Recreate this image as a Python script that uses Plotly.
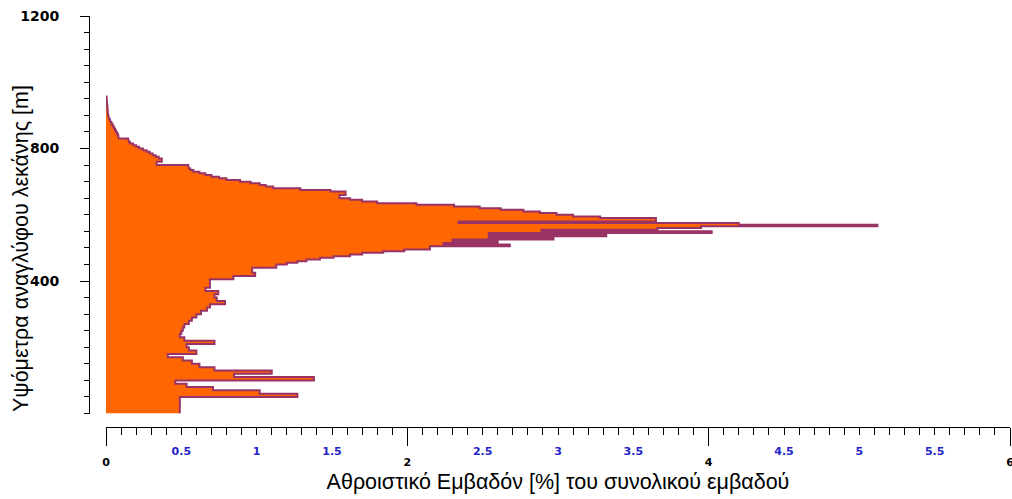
import plotly.graph_objects as go

# Elevation bands (lower edge, m) and share of basin area in each band (%)
band_floor_m = [
    0, 10, 20, 30, 40, 50, 60, 70, 80, 90,
    100, 110, 120, 130, 140, 150, 160, 170, 180, 190,
    200, 210, 220, 230, 240, 250, 260, 270, 280, 290,
    300, 310, 320, 330, 340, 350, 360, 370, 380, 390,
    400, 405, 410, 415, 420, 425, 430, 435, 440, 445,
    450, 455, 460, 465, 470, 475, 480, 485, 490, 495,
    500, 505, 510, 515, 520, 525, 530, 535, 540, 545,
    550, 555, 560, 565, 570, 575, 580, 585, 590, 595,
    600, 605, 610, 615, 620, 625, 630, 635, 640, 645,
    650, 655, 660, 665, 670, 675, 680, 685, 690, 695,
    700, 705, 710, 715, 720, 725, 730, 735, 740, 745,
    750, 755, 760, 765, 770, 775, 780, 785, 790, 795,
    800, 805, 810, 815, 820, 825, 830, 835, 840, 845,
    850, 855, 860, 865, 870, 875, 880, 885, 890, 895,
    900, 905, 910, 915, 920, 925, 930, 935, 940, 945,
    950, 955,
]
area_pct = [
    0.49, 0.49, 0.49, 0.49, 0.49, 1.27, 1.02, 0.71, 0.535, 0.46,
    1.38, 0.85, 1.10, 0.72, 0.62, 0.57, 0.51, 0.41, 0.60, 0.55,
    0.535, 0.72, 0.52, 0.49, 0.50, 0.51, 0.52, 0.55, 0.57, 0.60,
    0.63, 0.67, 0.69, 0.79, 0.735, 0.72, 0.745, 0.66, 0.69, 0.69,
    0.69, 0.845, 0.845, 0.99, 0.99, 0.97, 0.97, 0.97, 1.13, 1.13,
    1.20, 1.27, 1.33, 1.42, 1.51, 1.62, 1.70, 1.84, 1.98, 2.15,
    2.15, 2.68, 2.24, 2.60, 2.30, 2.97, 2.54, 3.32, 2.54, 4.02,
    2.89, 3.66, 3.95, 5.12, 4.20, 2.34, 3.65, 3.65, 3.28, 3.10,
    2.99, 2.88, 2.77, 2.62, 2.48, 2.31, 2.06, 1.80, 1.70, 1.62,
    1.55, 1.55, 1.59, 1.59, 1.49, 1.29, 1.11, 1.06, 1.02, 0.96,
    0.89, 0.80, 0.75, 0.70, 0.66, 0.62, 0.58, 0.56, 0.55, 0.546,
    0.336, 0.336, 0.37, 0.37, 0.35, 0.33, 0.31, 0.29, 0.27, 0.245,
    0.22, 0.20, 0.18, 0.159, 0.152, 0.148, 0.084, 0.082, 0.078, 0.072,
    0.066, 0.060, 0.054, 0.048, 0.042, 0.036, 0.030, 0.025, 0.020, 0.016,
    0.014, 0.013, 0.012, 0.011, 0.010, 0.009, 0.008, 0.007, 0.006, 0.005,
    0.004, 0.002,
]
top_m = 960

blue_ticks = [0.5, 1, 1.5, 2.5, 3, 3.5, 4.5, 5, 5.5]
black_ticks = [0, 2, 4, 6]
y_ticks = [400, 800, 1200]

# Stepped outline: each band is a vertical segment at its area value
xs, ys = [], []
for i, (lo, v) in enumerate(zip(band_floor_m, area_pct)):
    hi = band_floor_m[i + 1] if i + 1 < len(band_floor_m) else top_m
    xs += [v, v]
    ys += [lo, hi]

fig = go.Figure()
fig.add_trace(go.Scatter(
    x=xs, y=ys, mode="lines",
    line=dict(color="#993366", width=2),
    fill="tozerox", fillcolor="#ff6600",
    hoverinfo="skip", showlegend=False,
))

W, H = 1012, 499
ml, mr, mt, mb = 89, 2, 16, 72
pw, ph = W - ml - mr, H - mt - mb
x_dom0 = (106 - ml) / pw
y_dom0 = (H - mb - 413.5) / ph

tick_font_blue = dict(family="DejaVu Sans", size=11, color="#2424c8", weight="bold")
tick_font_black = dict(family="DejaVu Sans", size=11, color="black", weight="bold")
title_font = dict(family="Liberation Sans", size=21.5, color="black")

fig.update_layout(
    width=W, height=H,
    margin=dict(l=ml, r=mr, t=mt, b=mb, autoexpand=False),
    paper_bgcolor="white", plot_bgcolor="white",
    xaxis=dict(
        domain=[x_dom0, 1], range=[0, 6], anchor="free", position=0,
        showgrid=False, zeroline=False,
        showline=True, linecolor="black", linewidth=1,
        tickmode="array", tickvals=blue_ticks,
        ticktext=[f"{t:g}" for t in blue_ticks],
        ticks="outside", ticklen=7, tickcolor="black", tickwidth=1,
        tickfont=tick_font_blue, ticklabelstandoff=7,
        minor=dict(dtick=0.1, tick0=0, ticks="outside", ticklen=7,
                   tickcolor="black", tickwidth=1, showgrid=False),
        title=dict(text="Αθροιστικό Εμβαδόν [%] του συνολικού εμβαδού",
                   font=title_font, standoff=16),
        automargin=False,
    ),
    xaxis2=dict(
        domain=[x_dom0, 1], range=[0, 6], anchor="free", position=0,
        overlaying="x", side="bottom",
        showgrid=False, zeroline=False, showline=False,
        tickmode="array", tickvals=black_ticks,
        ticktext=[f"{t:g}" for t in black_ticks],
        ticks="outside", ticklen=18, tickcolor="black", tickwidth=1,
        tickfont=tick_font_black, ticklabelstandoff=7,
        ticklabeloverflow="allow",
        automargin=False,
    ),
    yaxis=dict(
        domain=[y_dom0, 1], range=[0, 1200], anchor="free", position=0,
        showgrid=False, zeroline=False,
        showline=True, linecolor="black", linewidth=1,
        tickmode="array", tickvals=y_ticks,
        ticks="outside", ticklen=9, tickcolor="black", tickwidth=1,
        tickfont=dict(family="DejaVu Sans", size=14, color="black", weight="bold"),
        ticklabelstandoff=18,
        minor=dict(dtick=50, tick0=0, ticks="outside", ticklen=5,
                   tickcolor="black", tickwidth=1, showgrid=False),
        automargin=False,
    ),
    annotations=[dict(
        text="Υψόμετρα αναγλύφου λεκάνης [m]",
        xref="paper", yref="paper",
        x=(21 - ml) / pw, y=(H - mb - 249) / ph,
        xanchor="center", yanchor="middle", textangle=-90, showarrow=False,
        font=title_font,
    )],
)

# keep the black-label axis drawn even without its own data
fig.add_trace(go.Scatter(x=[0], y=[0], xaxis="x2", mode="markers",
                         marker=dict(opacity=0), hoverinfo="skip", showlegend=False))

fig.write_html("out.html")
